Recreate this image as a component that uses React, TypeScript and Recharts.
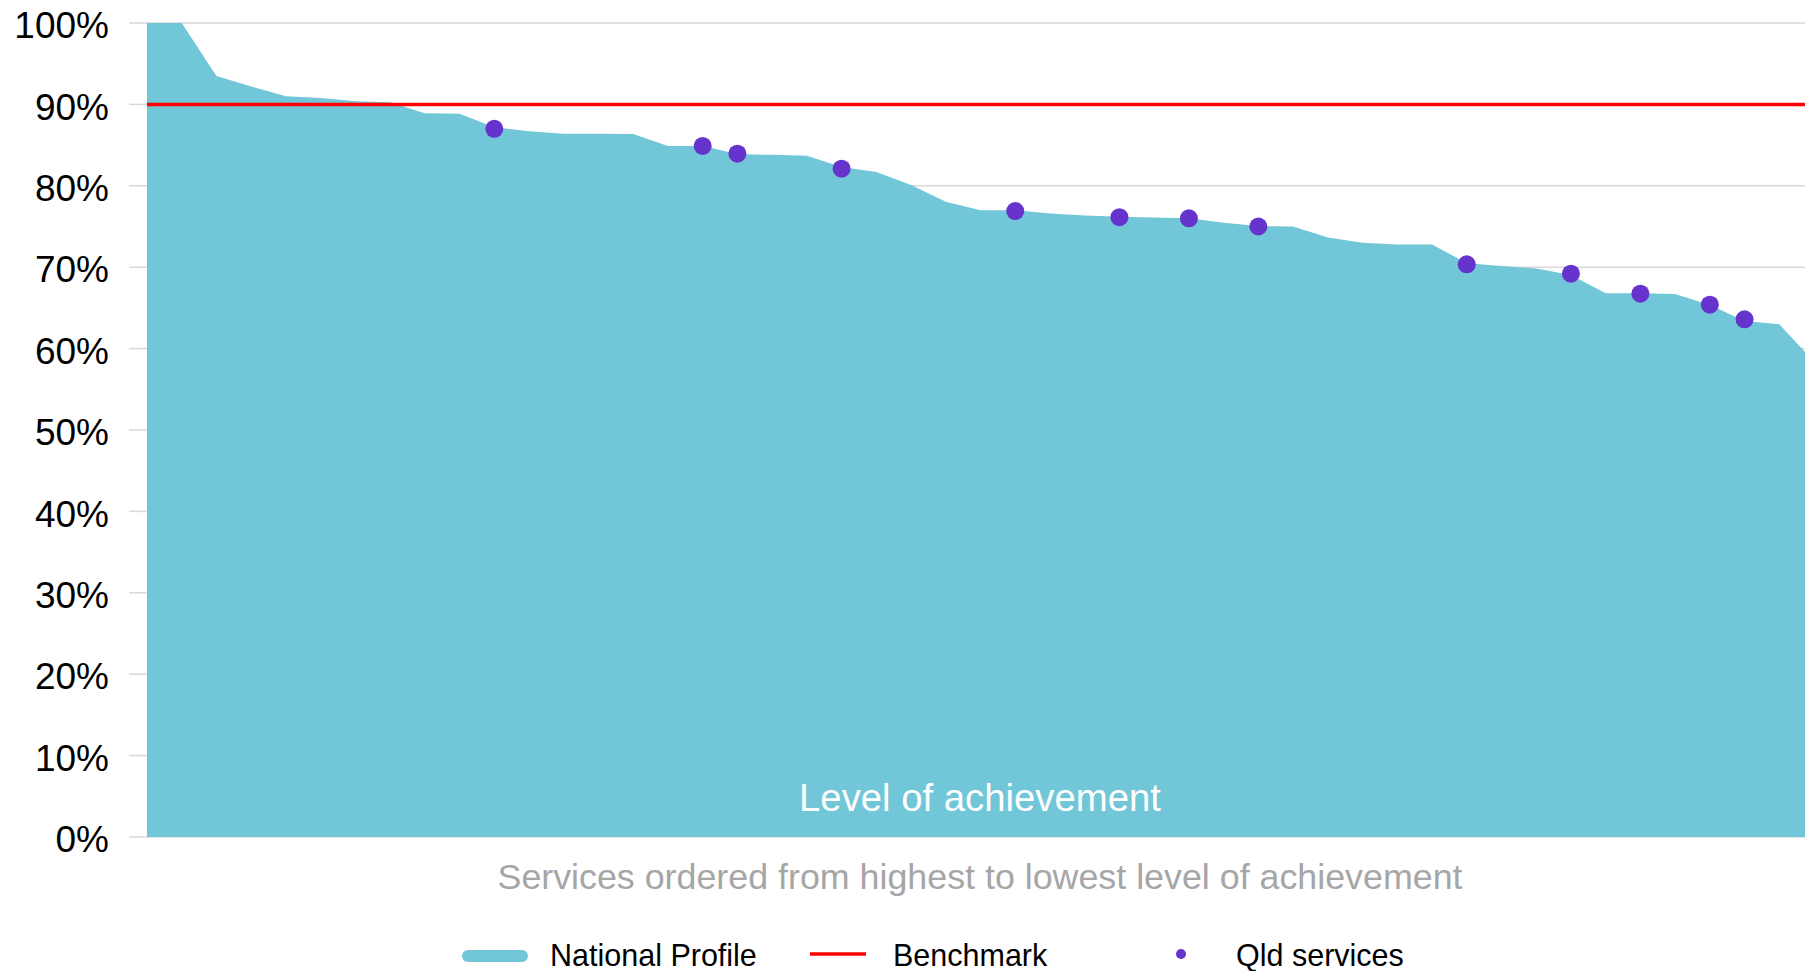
import React from "react";
import {
  Area,
  CartesianGrid,
  ComposedChart,
  Line,
  Scatter,
  XAxis,
  YAxis,
} from "recharts";

// national profile, services sorted from highest to lowest (% achievement)
const nationalProfile = [
  100, 100, 93.5, 92.2, 91.0, 90.8, 90.4, 90.25, 88.9, 88.85, 87.2, 86.7, 86.4,
  86.4, 86.35, 84.9, 84.9, 83.9, 83.8, 83.7, 82.3, 81.7, 80.1, 78.05, 77.0,
  77.0, 76.6, 76.35, 76.2, 76.1, 76.0, 75.45, 75.05, 75.0, 73.65, 73.0, 72.8,
  72.8, 70.5, 70.15, 69.85, 69.05, 66.8, 66.8, 66.7, 65.35, 63.4, 63.0, 58.4,
];

// Qld services: position in the national ranking and their own value
const qldRank = [10, 16, 17, 20, 25, 28, 30, 32, 38, 41, 43, 45, 46];
const qldValues = [
  87.0, 84.9, 83.95, 82.1, 76.9, 76.15, 76.0, 75.0, 70.35, 69.2, 66.75, 65.4,
  63.6,
];

const BENCHMARK = 90;
const yTicks = [0, 10, 20, 30, 40, 50, 60, 70, 80, 90, 100];
const X_MAX = 47.74; // chart is cut off at the right edge

const FONT = '"Liberation Sans", Arial, sans-serif';
const AREA_COLOR = "#71c6d7";
const DOT_COLOR = "#6633cc";
const RED = "#ff0000";

const profileData = nationalProfile.map((v, i) => ({
  idx: i,
  national: v,
  benchmark: BENCHMARK,
}));

const qldData = qldRank.map((r, i) => ({ idx: r, qld: qldValues[i] }));

const QldDot = (props: any) => {
  const { cx, cy } = props;
  if (cx == null || cy == null) return null;
  return <circle cx={cx} cy={cy} r={9} fill={DOT_COLOR} />;
};

const textStyle: React.CSSProperties = {
  position: "absolute",
  fontFamily: FONT,
  whiteSpace: "nowrap",
  lineHeight: 1,
};

export default function App() {
  return (
    <div
      style={{
        position: "absolute",
        left: 0,
        top: 0,
        width: 1805,
        height: 971,
        overflow: "hidden",
        background: "#fff",
      }}
    >
      <ComposedChart
        width={1805}
        height={971}
        data={profileData}
        margin={{ top: 23, right: 0, bottom: 134, left: 0 }}
      >
        <XAxis
          type="number"
          dataKey="idx"
          domain={[0, X_MAX]}
          allowDataOverflow
          hide
        />
        <YAxis
          type="number"
          domain={[0, 100]}
          ticks={yTicks}
          width={147}
          axisLine={false}
          tickLine={{ stroke: "#d9d9d9", strokeWidth: 1.5 }}
          tickSize={18}
          tickMargin={20}
          tickFormatter={(v) => `${v}%`}
          tick={{ fill: "#000", fontSize: 37, fontFamily: FONT, dy: 2 }}
        />
        <Area
          type="linear"
          dataKey="national"
          fill={AREA_COLOR}
          fillOpacity={1}
          stroke="none"
          isAnimationActive={false}
        />
        <CartesianGrid
          vertical={false}
          stroke="#d9d9d9"
          strokeWidth={1.5}
        />
        <Line
          type="linear"
          dataKey="benchmark"
          stroke={RED}
          strokeWidth={3.5}
          dot={false}
          activeDot={false}
          isAnimationActive={false}
        />
        <Scatter
          data={qldData}
          dataKey="qld"
          fill={DOT_COLOR}
          shape={<QldDot />}
          isAnimationActive={false}
        />
      </ComposedChart>

      <div
        style={{
          ...textStyle,
          left: 980,
          top: 779,
          transform: "translateX(-50%)",
          fontSize: 38.3,
          color: "#fff",
        }}
      >
        Level of achievement
      </div>
      <div
        style={{
          ...textStyle,
          left: 980,
          top: 860,
          transform: "translateX(-50%)",
          fontSize: 35.8,
          color: "#a6a6a6",
        }}
      >
        Services ordered from highest to lowest level of achievement
      </div>

      {/* legend */}
      <svg
        width={1805}
        height={34}
        style={{ position: "absolute", left: 0, top: 937 }}
      >
        <rect x={462} y={13} width={66} height={12} rx={6} fill={AREA_COLOR} />
        <line x1={810} x2={866} y1={17} y2={17} stroke={RED} strokeWidth={3.5} />
        <circle cx={1181} cy={17} r={5} fill={DOT_COLOR} />
      </svg>
      <div style={{ ...textStyle, left: 550, top: 940, fontSize: 30.5 }}>
        National Profile
      </div>
      <div style={{ ...textStyle, left: 893, top: 940, fontSize: 30.5 }}>
        Benchmark
      </div>
      <div style={{ ...textStyle, left: 1236, top: 940, fontSize: 30.5 }}>
        Qld services
      </div>
    </div>
  );
}
